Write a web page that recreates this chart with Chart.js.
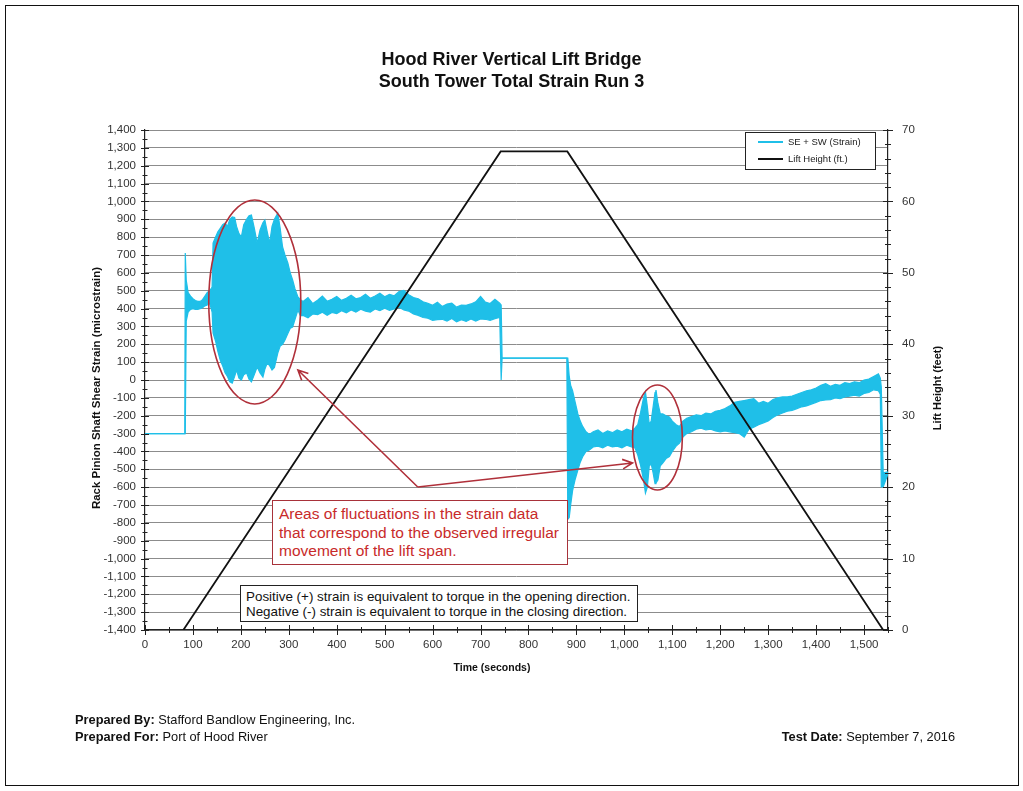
<!DOCTYPE html>
<html>
<head>
<meta charset="utf-8">
<title>Hood River Vertical Lift Bridge - South Tower Total Strain Run 3</title>
<script src="https://cdn.jsdelivr.net/npm/chart.js@4.4.0/dist/chart.umd.min.js"></script>
<style>
    html, body { margin: 0; padding: 0; background: #fff; }
    body { width: 1023px; height: 791px; position: relative; overflow: hidden;
           font-family: "Liberation Sans", Arial, sans-serif; color: #111; }
    #chart { position: absolute; left: 0; top: 0; }
    #frame { position: absolute; left: 5px; top: 5px; width: 1014px; height: 781px;
             border: 1.5px solid #111; box-sizing: border-box; pointer-events: none; }
    #title { position: absolute; left: 0; top: 48px; width: 1023px; text-align: center;
             font-weight: bold; font-size: 18px; line-height: 22px; }
    #callout { position: absolute; left: 272px; top: 500px; width: 296px; height: 65px;
               box-sizing: border-box; border: 1.5px solid #a8323a; background: #fff;
               padding: 4px 6px; color: #c82a2a; font-size: 15.5px; line-height: 18.5px;
               white-space: nowrap; }
    #note { position: absolute; left: 240px; top: 585px; width: 398px; height: 37px;
            box-sizing: border-box; border: 1px solid #222; background: #fff;
            padding: 3px 5px; font-size: 13.4px; line-height: 15px; white-space: nowrap; }
    .foot { position: absolute; font-size: 12.8px; line-height: 15px; white-space: nowrap; }
    .foot b { font-weight: bold; }
</style>
</head>
<body>
<canvas id="chart" width="1023" height="791"></canvas>
<div id="title">Hood River Vertical Lift Bridge<br>South Tower Total Strain Run 3</div>
<div id="callout">Areas of fluctuations in the strain data<br>that correspond to the observed irregular<br>movement of the lift span.</div>
<div id="note">Positive (+) strain is equivalent to torque in the opening direction.<br>Negative (-) strain is equivalent to torque in the closing direction.</div>
<div class="foot" style="left:75px; top:712px;"><b>Prepared By:</b> Stafford Bandlow Engineering, Inc.</div>
<div class="foot" style="left:75px; top:729px;"><b>Prepared For:</b> Port of Hood River</div>
<div class="foot" style="right:68px; top:729px;"><b>Test Date:</b> September 7, 2016</div>
<div id="frame"></div>

<script>
"use strict";

//=> Strain record (SE + SW), read as a min / max envelope per time step
var strainTime = [
    0, 83, 84, 86, 90, 95, 100, 105, 110, 115, 120, 125, 130, 135, 140,
    142, 147, 152, 157, 162, 167, 172, 177, 182, 187, 191, 196, 201, 206, 212, 217, 222, 228,
    234, 240, 246, 250, 255, 260, 265, 270, 277, 282, 287, 292, 298, 303, 308, 313, 319, 324,
    330, 340, 350, 360, 370, 380, 390, 400, 410, 420, 430, 440, 450, 460, 470, 480, 490, 500,
    510, 520, 530, 540, 550, 560, 570, 580, 590, 600, 610, 620, 630, 640, 650, 660, 670, 680,
    690, 700, 710, 720, 730, 740,
    743, 745, 880, 882, 885, 888, 892, 897, 903, 908, 913, 920, 927,
    935, 945, 955, 965, 975, 985, 995, 1005, 1015, 1022,
    1028, 1034, 1040, 1044, 1048, 1052, 1056, 1060, 1064, 1066, 1070, 1075, 1080, 1087, 1094,
    1100, 1108, 1115, 1122,
    1130, 1140, 1150, 1160, 1170, 1180, 1190, 1200, 1210, 1220, 1230, 1240, 1250, 1260, 1270,
    1280, 1290, 1300, 1310, 1320, 1330, 1340, 1350, 1360, 1370, 1380, 1390, 1400, 1410, 1420,
    1430, 1440, 1450, 1460, 1470, 1480, 1490, 1500, 1510, 1520, 1530,
    1534, 1536, 1540, 1550
];
var strainHigh = [
    -300, -300, 711, 560, 490, 470, 455, 445, 440, 440, 450, 470, 490, 500, 520,
    767, 800, 830, 850, 870, 879, 860, 900, 913, 910, 860, 820, 801, 870, 900, 920, 924, 850,
    767, 840, 880, 896, 830, 767, 860, 900, 935, 850, 745, 700, 655, 600, 560, 510, 465, 450,
    440, 462, 428, 447, 470, 441, 452, 468, 446, 458, 475, 455, 462, 480, 458, 470, 486, 466,
    480, 472, 495, 502, 478, 462, 455, 438, 430, 418, 436, 412, 425, 430, 408, 420, 418, 426,
    438, 468, 436, 428, 452, 430,
    420, 123, 123, 123, 20, -30, -60, -120, -190, -230, -260, -290, -305,
    -290, -280, -300, -285, -295, -280, -290, -275, -285, -270,
    -250, -180, -100, -67, -150, -250, -230, -150, -70, -56, -130, -190, -190, -200, -207,
    -230, -250, -261, -230,
    -215, -205, -195, -200, -185, -190, -175, -170, -160, -145, -125, -120, -115, -110, -105,
    -130, -120, -130, -110, -100, -95, -95, -90, -80, -70, -60, -55, -45, -30, -20,
    -35, -25, -30, -15, -20, -10, -15, 0, 5, 20, 35,
    10, -40, -520, -515
];
var strainLow = [
    -300, -300, -300, 330, 380, 395, 400, 395, 395, 400, 405, 415, 420, 430, 380,
    263, 220, 160, 110, 80, 40, 20, -10, -17, 20, 56, 10, 0, 30, 39, 5, -11, 30,
    73, 40, 17, 60, 95, 80, 56, 70, 151, 190, 200, 224, 260, 290, 297, 340, 392, 360,
    362, 348, 370, 366, 380, 362, 378, 372, 388, 376, 392, 380, 396, 386, 380, 398, 388, 402,
    390, 398, 408, 392, 386, 370, 362, 350, 346, 334, 338, 340, 330, 344, 326, 338, 328, 342,
    330, 342, 340, 334, 344, 350,
    0, 123, 123, -780, -770, -700, -620, -560, -504, -460, -430, -400, -392,
    -375, -370, -380, -365, -375, -370, -380, -365, -375, -380,
    -420, -480, -560, -633, -600, -480, -470, -520, -580, -577, -560, -480, -466, -440, -429,
    -400, -370, -354, -320,
    -300, -290, -275, -270, -280, -275, -285, -290, -285, -290, -295, -300, -320, -275, -265,
    -250, -240, -230, -210, -195, -185, -175, -170, -160, -150, -145, -135, -125, -115, -112,
    -110, -100, -105, -95, -90, -85, -90, -75, -70, -55, -60,
    -80, -598, -598, -525
];

//=> Lift height (ft.)
var liftTime = [80, 742, 881, 1540];
var liftFeet = [0, 67, 67, 0];

//=> Axis ranges
var timeRange = [0, 1550];
var strainRange = [-1400, 1400];
var liftRange = [0, 70];

//=> Callouts, in data units (time, strain)
var ellipses = [
    { t: 229, v: 437, rt: 96, rv: 571 },
    { t: 1069, v: -322, rt: 52, rv: 294 }
];
var arrowFrom = { t: 569, v: -599 };
var arrowTips = [{ t: 319, v: 56 }, { t: 1017, v: -465 }];

var CYAN = '#1fbfe8';
var RED = '#b0303a';
var FONT = '"Liberation Sans", Arial, sans-serif';

function toPoints(xs, ys) {
    return xs.map(function (x, i) { return { x: x, y: ys[i] }; });
}

var overlayPlugin = {
    id: 'overlay',
    afterDatasetsDraw: function (chart) {
        var ctx = chart.ctx, sx = chart.scales.x, sy = chart.scales.y;
        ctx.save();
        ctx.strokeStyle = RED;
        ctx.lineWidth = 1.6;
        ellipses.forEach(function (e) {
            var cx = sx.getPixelForValue(e.t), cy = sy.getPixelForValue(e.v);
            var rx = Math.abs(sx.getPixelForValue(e.t + e.rt) - cx);
            var ry = Math.abs(sy.getPixelForValue(e.v + e.rv) - cy);
            ctx.beginPath();
            ctx.ellipse(cx, cy, rx, ry, 0, 0, Math.PI * 2);
            ctx.stroke();
        });
        var ox = sx.getPixelForValue(arrowFrom.t), oy = sy.getPixelForValue(arrowFrom.v);
        arrowTips.forEach(function (a) {
            var tx = sx.getPixelForValue(a.t), ty = sy.getPixelForValue(a.v);
            var ang = Math.atan2(ty - oy, tx - ox);
            ctx.beginPath();
            ctx.moveTo(ox, oy);
            ctx.lineTo(tx, ty);
            ctx.moveTo(tx - 11 * Math.cos(ang - 0.45), ty - 11 * Math.sin(ang - 0.45));
            ctx.lineTo(tx, ty);
            ctx.lineTo(tx - 11 * Math.cos(ang + 0.45), ty - 11 * Math.sin(ang + 0.45));
            ctx.stroke();
        });
        ctx.restore();
    },
    afterDraw: function (chart) {
        var ctx = chart.ctx, area = chart.chartArea;
        var sx = chart.scales.x, sy = chart.scales.y, sy2 = chart.scales.y2;
        var v, p, len;
        ctx.save();
        ctx.strokeStyle = '#222';
        ctx.lineWidth = 1;

        //=> major / minor tick marks across the axis lines
        ctx.beginPath();
        for (v = strainRange[0]; v <= strainRange[1]; v += 50) {
            p = Math.round(sy.getPixelForValue(v)) + 0.5;
            len = v % 100 === 0 ? 4 : 2.5;
            ctx.moveTo(area.left - len, p); ctx.lineTo(area.left + len, p);
        }
        for (v = liftRange[0]; v <= liftRange[1]; v += 2) {
            p = Math.round(sy2.getPixelForValue(v)) + 0.5;
            len = v % 10 === 0 ? 5 : 3;
            ctx.moveTo(area.right - len, p); ctx.lineTo(area.right + len, p);
        }
        for (v = timeRange[0]; v <= timeRange[1]; v += 50) {
            p = Math.round(sx.getPixelForValue(v)) + 0.5;
            len = v % 100 === 0 ? 5 : 3;
            ctx.moveTo(p, area.bottom - len); ctx.lineTo(p, area.bottom + len);
        }
        ctx.stroke();

        //=> axis titles
        ctx.fillStyle = '#111';
        ctx.textAlign = 'center';
        ctx.textBaseline = 'middle';
        ctx.font = 'bold 10.5px ' + FONT;
        ctx.fillText('Time (seconds)', 492, area.bottom + 38);
        ctx.font = 'bold 11.5px ' + FONT;
        ctx.save();
        ctx.translate(area.left - 48, 388);
        ctx.rotate(-Math.PI / 2);
        ctx.fillText('Rack Pinion Shaft Shear Strain (microstrain)', 0, 0);
        ctx.restore();
        ctx.font = 'bold 11px ' + FONT;
        ctx.save();
        ctx.translate(area.right + 50, 388);
        ctx.rotate(-Math.PI / 2);
        ctx.fillText('Lift Height (feet)', 0, 0);
        ctx.restore();

        //=> legend box inside the plot
        var items = chart.data.datasets.filter(function (d) { return d.label; });
        items.sort(function (a, b) { return a.legendRank - b.legendRank; });
        var bx = area.right - 143, by = area.top + 2, bw = 130, bh = 37;
        ctx.fillStyle = '#fff';
        ctx.fillRect(bx, by, bw, bh);
        ctx.strokeStyle = '#222';
        ctx.lineWidth = 1;
        ctx.strokeRect(bx + 0.5, by + 0.5, bw, bh);
        ctx.font = '9.5px ' + FONT;
        ctx.textAlign = 'left';
        items.forEach(function (d, i) {
            var yy = by + 10 + i * 17;
            ctx.strokeStyle = d.borderColor;
            ctx.lineWidth = 2;
            ctx.beginPath();
            ctx.moveTo(bx + 13, yy); ctx.lineTo(bx + 38, yy);
            ctx.stroke();
            ctx.fillStyle = '#222';
            ctx.fillText(d.label, bx + 43, yy);
        });
        ctx.restore();
    }
};

var tickFont = { family: FONT, size: 11.5 };

new Chart(document.getElementById('chart').getContext('2d'), {
    type: 'line',
    data: {
        datasets: [{
            label: 'SE + SW (Strain)',
            legendRank: 0,
            data: toPoints(strainTime, strainHigh),
            borderColor: CYAN,
            borderWidth: 1.2,
            pointRadius: 0,
            fill: false,
            order: 2
        }, {
            label: '',
            data: toPoints(strainTime, strainLow),
            borderColor: CYAN,
            backgroundColor: CYAN,
            borderWidth: 1.2,
            pointRadius: 0,
            fill: '-1',
            order: 1
        }, {
            label: 'Lift Height (ft.)',
            legendRank: 1,
            data: toPoints(liftTime, liftFeet),
            yAxisID: 'y2',
            borderColor: '#111',
            borderWidth: 1.8,
            pointRadius: 0,
            fill: false,
            order: 0
        }]
    },
    options: {
        responsive: false,
        animation: false,
        events: [],
        layout: { padding: { left: 85, right: 75, top: 130, bottom: 121 } },
        plugins: {
            legend: { display: false },
            title: { display: false },
            tooltip: { enabled: false }
        },
        scales: {
            x: {
                type: 'linear',
                min: timeRange[0],
                max: timeRange[1],
                afterFit: function (s) { s.height = 40; },
                grid: { display: false, drawTicks: false },
                border: { display: true, color: '#222', width: 1.2 },
                ticks: {
                    stepSize: 100, includeBounds: false, autoSkip: false, maxRotation: 0,
                    padding: 8, color: '#333', font: tickFont,
                    callback: function (v) { return v.toLocaleString('en-US'); }
                }
            },
            y: {
                position: 'left',
                min: strainRange[0],
                max: strainRange[1],
                afterFit: function (s) { s.width = 60; },
                grid: { color: '#8c8c8c', lineWidth: 1, drawTicks: false },
                border: { display: true, color: '#222', width: 1.2 },
                ticks: {
                    stepSize: 100, autoSkip: false, padding: 9, color: '#333', font: tickFont,
                    callback: function (v) { return v.toLocaleString('en-US'); }
                }
            },
            y2: {
                position: 'right',
                min: liftRange[0],
                max: liftRange[1],
                afterFit: function (s) { s.width = 60; },
                grid: { display: false, drawTicks: false },
                border: { display: true, color: '#222', width: 1.2 },
                ticks: { stepSize: 10, padding: 14, color: '#333', font: tickFont }
            }
        }
    },
    plugins: [overlayPlugin]
});
</script>
</body>
</html>
